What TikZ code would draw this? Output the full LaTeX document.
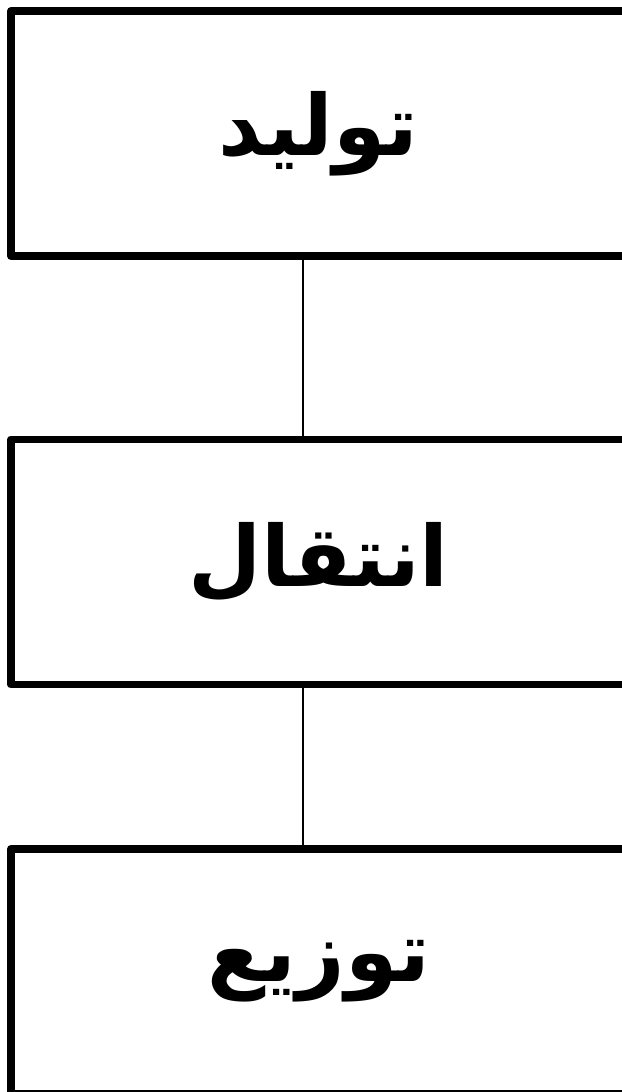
\documentclass[tikz,border=0pt]{standalone}
\usepackage{fontspec}
\newfontfamily\arabicfont[Script=Arabic]{DejaVu Sans}
\TeXXeTstate=1

\begin{document}
\begin{tikzpicture}[x=0.03cm, y=-0.03cm,
    stage/.style={draw, line width=6.8pt, line join=round, inner sep=0pt,
        minimum width=18.45cm, minimum height=7.35cm,
        font=\arabicfont\bfseries\fontsize{72}{80}\selectfont},
    link/.style={line width=2pt}]
    % قاب تصویر
    \useasboundingbox (0, 0) rectangle (622, 1092);

    % سه مرحله
    \node[stage] (prod)  at (318.5, 133.5) {\beginR تولید\endR};
    \node[stage] (trans) at (318.5, 562)   {\beginR انتقال\endR};
    \node[stage] (dist)  at (318.5, 971.5) {\beginR توزیع\endR};

    % خطوط رابط
    \draw[link] ([xshift=-0.465cm]prod.south) -- ([xshift=-0.465cm]trans.north);
    \draw[link] ([xshift=-0.465cm]trans.south) -- ([xshift=-0.465cm]dist.north);
\end{tikzpicture}
\end{document}
